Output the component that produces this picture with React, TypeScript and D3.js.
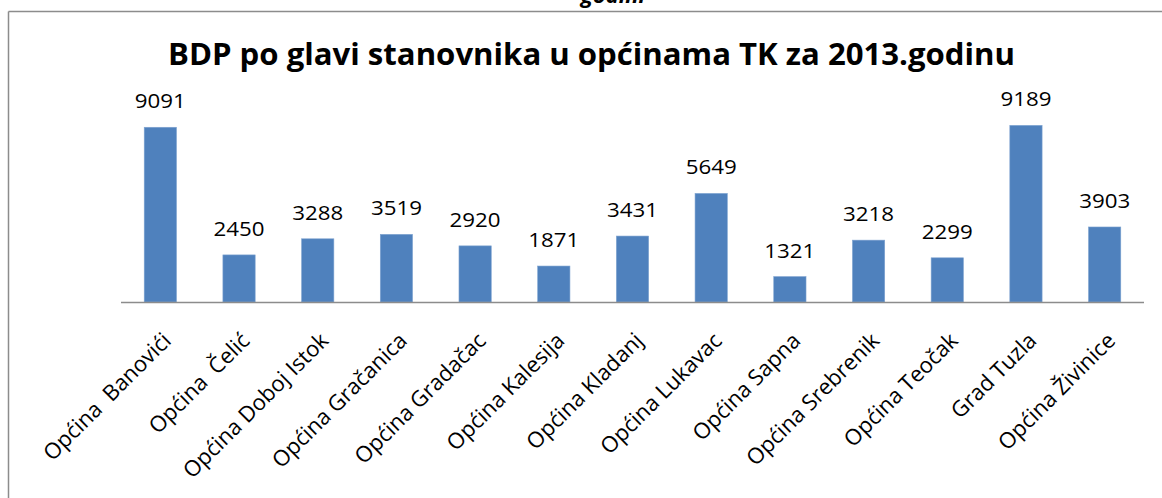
import React from "react";
import * as d3 from "d3";

const categories = [
  "Općina  Banovići",
  "Općina  Čelić",
  "Općina Doboj Istok",
  "Općina Gračanica",
  "Općina Gradačac",
  "Općina Kalesija",
  "Općina Kladanj",
  "Općina Lukavac",
  "Općina Sapna",
  "Općina Srebrenik",
  "Općina Teočak",
  "Grad Tuzla",
  "Općina Živinice",
];
const values = [9091, 2450, 3288, 3519, 2920, 1871, 3431, 5649, 1321, 3218, 2299, 9189, 3903];
const yDomain = [0, 10000];
const titleText = "BDP po glavi stanovnika u općinama TK za 2013.godinu";
const clippedCaption = "godini";

const W = 1162;
const H = 498;
const FONT = "'Open Sans', 'Liberation Sans', sans-serif";

export default function App() {
  const x = d3
    .scaleBand<string>()
    .domain(categories)
    .range([121, 1144])
    .paddingInner(0.59)
    .paddingOuter(0.295);
  const y = d3.scaleLinear().domain(yDomain).range([302, 109.8]);
  const baseY = y(0);

  return (
    <svg
      width={W}
      height={H}
      style={{ position: "absolute", left: 0, top: 0, display: "block", background: "#fff" }}
      fontFamily={FONT}
    >
      <rect x={0} y={0} width={W} height={H} fill="#fff" />
      <text
        x={613}
        y={3}
        textAnchor="middle"
        fontSize={22}
        fontWeight="bold"
        fontStyle="italic"
        fill="#000"
      >
        {clippedCaption}
      </text>
      {/* frame */}
      <line x1={8.5} y1={11.5} x2={W} y2={11.5} stroke="#8c8c8c" strokeWidth={1.5} />
      <line x1={8.5} y1={11.5} x2={8.5} y2={H} stroke="#8c8c8c" strokeWidth={1.5} />

      <text
        x={168}
        y={65}
        fontSize={30}
        fontWeight="bold"
        fill="#000"
        textLength={847}
        lengthAdjust="spacingAndGlyphs"
      >
        {titleText}
      </text>

      {categories.map((c, i) => {
        const v = values[i];
        const bx = x(c)!;
        const bw = x.bandwidth();
        return (
          <g key={c}>
            <rect
              x={bx}
              y={y(v)}
              width={bw}
              height={baseY - y(v)}
              fill="#4F81BD"
              stroke="#7ea3d0"
              strokeWidth={0.6}
            />
            <text
              x={bx + bw / 2}
              y={y(v) - 19}
              textAnchor="middle"
              fontSize={20}
              fill="#000"
              textLength={51}
              lengthAdjust="spacingAndGlyphs"
            >
              {v}
            </text>
          </g>
        );
      })}

      <line x1={121} y1={baseY + 0.5} x2={1144} y2={baseY + 0.5} stroke="#8c8c8c" strokeWidth={1.5} />

      {categories.map((c) => {
        const cx = x(c)! + x.bandwidth() / 2;
        return (
          <text
            key={"l" + c}
            transform={`translate(${cx + 12},${baseY + 40}) rotate(-45)`}
            textAnchor="end"
            fontSize={22}
            fill="#000"
            style={{ whiteSpace: "pre" }}
          >
            {c}
          </text>
        );
      })}
    </svg>
  );
}
